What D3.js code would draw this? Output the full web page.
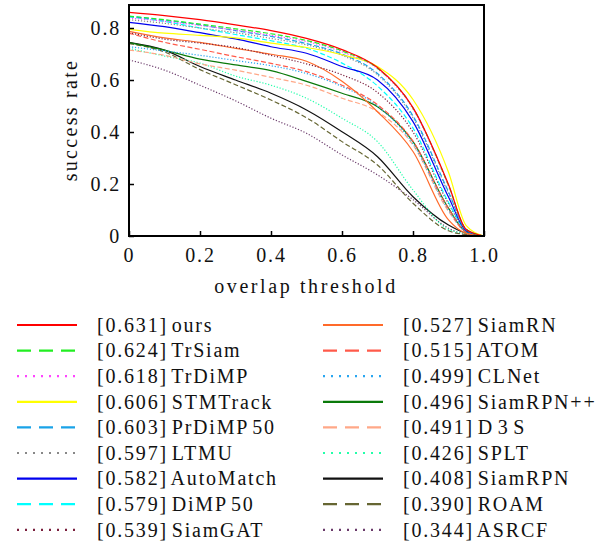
<!DOCTYPE html>
<html>
<head>
<meta charset="utf-8">
<script src="https://cdn.jsdelivr.net/npm/d3@7"></script>
<style>
  body { margin: 0; background: #fff; }
  text { font-family: "Liberation Serif", "Times New Roman", serif; fill: #111; }
</style>
</head>
<body>
<div id="chart"></div>
<script>
// overlap thresholds where curves were read
const thresholds = [0, 0.1, 0.2, 0.3, 0.4, 0.5, 0.6, 0.7, 0.8, 0.9, 0.95, 1.0];

const methods = ["ours", "TrSiam", "TrDiMP", "STMTrack", "PrDiMP 50", "LTMU", "AutoMatch", "DiMP 50", "SiamGAT",
                 "SiamRN", "ATOM", "CLNet", "SiamRPN++", "D 3 S", "SPLT", "SiamRPN", "ROAM", "ASRCF"];
const aucs = ["0.631", "0.624", "0.618", "0.606", "0.603", "0.597", "0.582", "0.579", "0.539",
              "0.527", "0.515", "0.499", "0.496", "0.491", "0.426", "0.408", "0.390", "0.344"];

const ours      = [0.860, 0.848, 0.832, 0.812, 0.790, 0.760, 0.717, 0.648, 0.494, 0.198, 0.025, 0];
const trSiam    = [0.846, 0.832, 0.815, 0.797, 0.778, 0.752, 0.712, 0.645, 0.492, 0.195, 0.025, 0];
const trDiMP    = [0.838, 0.826, 0.810, 0.792, 0.772, 0.748, 0.708, 0.643, 0.488, 0.192, 0.025, 0];
const stmTrack  = [0.795, 0.780, 0.772, 0.762, 0.742, 0.725, 0.697, 0.652, 0.525, 0.245, 0.040, 0];
const prDiMP    = [0.845, 0.830, 0.812, 0.790, 0.768, 0.740, 0.700, 0.625, 0.462, 0.170, 0.025, 0];
const ltmu      = [0.832, 0.818, 0.800, 0.782, 0.760, 0.735, 0.695, 0.620, 0.455, 0.165, 0.025, 0];
const autoMatch = [0.822, 0.805, 0.782, 0.758, 0.728, 0.703, 0.652, 0.600, 0.440, 0.150, 0.020, 0];
const dimp      = [0.843, 0.825, 0.800, 0.775, 0.751, 0.722, 0.665, 0.577, 0.415, 0.130, 0.020, 0];
const siamGAT   = [0.782, 0.757, 0.742, 0.725, 0.695, 0.662, 0.620, 0.552, 0.400, 0.125, 0.020, 0];
const siamRN    = [0.787, 0.762, 0.745, 0.722, 0.699, 0.672, 0.595, 0.478, 0.325, 0.062, 0.010, 0];
const atom      = [0.780, 0.745, 0.718, 0.690, 0.664, 0.632, 0.580, 0.505, 0.365, 0.105, 0.015, 0];
const clNet     = [0.728, 0.712, 0.695, 0.675, 0.655, 0.625, 0.575, 0.500, 0.355, 0.100, 0.015, 0];
const siamRPNpp = [0.744, 0.715, 0.680, 0.658, 0.636, 0.595, 0.549, 0.497, 0.363, 0.107, 0.015, 0];
const d3s       = [0.715, 0.695, 0.662, 0.638, 0.610, 0.580, 0.530, 0.478, 0.350, 0.095, 0.015, 0];
const splt      = [0.722, 0.692, 0.665, 0.615, 0.580, 0.530, 0.453, 0.363, 0.177, 0.025, 0.010, 0];
const siamRPN   = [0.745, 0.715, 0.652, 0.600, 0.549, 0.485, 0.401, 0.305, 0.151, 0.042, 0.010, 0];
const roam      = [0.740, 0.708, 0.640, 0.582, 0.523, 0.455, 0.363, 0.273, 0.126, 0.020, 0.005, 0];
const asrcf     = [0.677, 0.638, 0.580, 0.520, 0.453, 0.395, 0.312, 0.235, 0.140, 0.030, 0.005, 0];

const xTicks = [0, 0.2, 0.4, 0.6, 0.8, 1.0];
const yTicks = [0, 0.2, 0.4, 0.6, 0.8];

const values = [ours, trSiam, trDiMP, stmTrack, prDiMP, ltmu, autoMatch, dimp, siamGAT,
                siamRN, atom, clNet, siamRPNpp, d3s, splt, siamRPN, roam, asrcf];

// styles
const colors = ["#ff0000", "#22ee22", "#ff44ff", "#ffff00", "#1aa3e8", "#888888", "#0000ee", "#00ffff", "#7a1f3d",
                "#ff6a2a", "#ff5a4a", "#2aa6f0", "#0a7a0a", "#ffa888", "#22ffaa", "#111111", "#666633", "#6a3a6a"];
const kinds = ["solid", "dash", "dot", "solid", "dash", "dot", "solid", "dash", "dot",
               "solid", "dash", "dot", "solid", "dash", "dot", "solid", "dash", "dot"];
const plotDash = { solid: null, dash: "5,2.5", dot: "1.2,1.8" };
const legendDash = { solid: null, dash: "14,8", dot: "2,6" };

const series = methods.map((m, i) => ({
  name: m, auc: aucs[i], color: colors[i], kind: kinds[i],
  points: thresholds.map((t, j) => ({ t, v: values[i][j] }))
}));

const W = 608, H = 544;
const svg = d3.select("#chart").append("svg")
  .attr("width", W)
  .attr("height", H);

const box = { left: 129, right: 484, top: 5, bottom: 236 };

const x = d3.scaleLinear().domain([0, 1]).range([box.left, box.right]);
const y = d3.scaleLinear().domain([0, 0.8885]).range([box.bottom, box.top]);

const line = d3.line()
  .x(d => x(d.t))
  .y(d => y(d.v))
  .curve(d3.curveMonotoneX);

// curves, drawn lowest-ranked first so "ours" ends on top
svg.append("g")
  .selectAll("path")
  .data(series.slice().reverse())
  .join("path")
  .attr("fill", "none")
  .attr("stroke", d => d.color)
  .attr("stroke-width", 1.2)
  .attr("stroke-dasharray", d => plotDash[d.kind])
  .attr("d", d => line(d.points));

// frame
svg.append("rect")
  .attr("x", box.left).attr("y", box.top)
  .attr("width", box.right - box.left).attr("height", box.bottom - box.top)
  .attr("fill", "none")
  .attr("stroke", "#000")
  .attr("stroke-width", 2);

// axes with inward ticks
const fmt = d => d === 0 ? "0" : d3.format(".1f")(d);
const xAxis = svg.append("g")
  .attr("transform", `translate(0,${box.bottom})`)
  .call(d3.axisBottom(x).tickValues(xTicks).tickFormat(fmt)
    .tickSizeInner(-5).tickSizeOuter(0).tickPadding(12));
const yAxis = svg.append("g")
  .attr("transform", `translate(${box.left},0)`)
  .call(d3.axisLeft(y).tickValues(yTicks).tickFormat(fmt)
    .tickSizeInner(-5).tickSizeOuter(0).tickPadding(8));

[xAxis, yAxis].forEach(a => {
  a.select(".domain").remove();
  a.selectAll(".tick line").attr("stroke", "#000").attr("stroke-width", 1.5);
  a.selectAll(".tick text")
    .attr("font-size", 20)
    .attr("letter-spacing", 1.8)
    .style("font-family", "'Liberation Serif', serif")
    .attr("fill", "#111");
});

// axis titles
svg.append("text")
  .attr("x", 306).attr("y", 293)
  .attr("text-anchor", "middle")
  .attr("font-size", 20)
  .attr("letter-spacing", 2.6)
  .text("overlap threshold");

svg.append("text")
  .attr("transform", "translate(77,120) rotate(-90)")
  .attr("text-anchor", "middle")
  .attr("font-size", 20)
  .attr("letter-spacing", 2.3)
  .text("success rate");

// legend, two columns
const legend = svg.append("g");
const rowH = 25.6;
const rows = legend.selectAll("g")
  .data(series)
  .join("g")
  .attr("transform", (d, i) => {
    const col = Math.floor(i / 9), row = i % 9;
    return `translate(${col === 0 ? 17 : 323},${325 + row * rowH})`;
  });

rows.append("line")
  .attr("x1", 0).attr("x2", 60)
  .attr("stroke", d => d.color)
  .attr("stroke-width", 2.2)
  .attr("stroke-dasharray", d => legendDash[d.kind]);

rows.append("text")
  .attr("x", 80).attr("y", 6.7)
  .attr("font-size", 20)
  .attr("letter-spacing", 1.8)
  .attr("word-spacing", -3)
  .text(d => `[${d.auc}] ${d.name}`);
</script>
</body>
</html>
